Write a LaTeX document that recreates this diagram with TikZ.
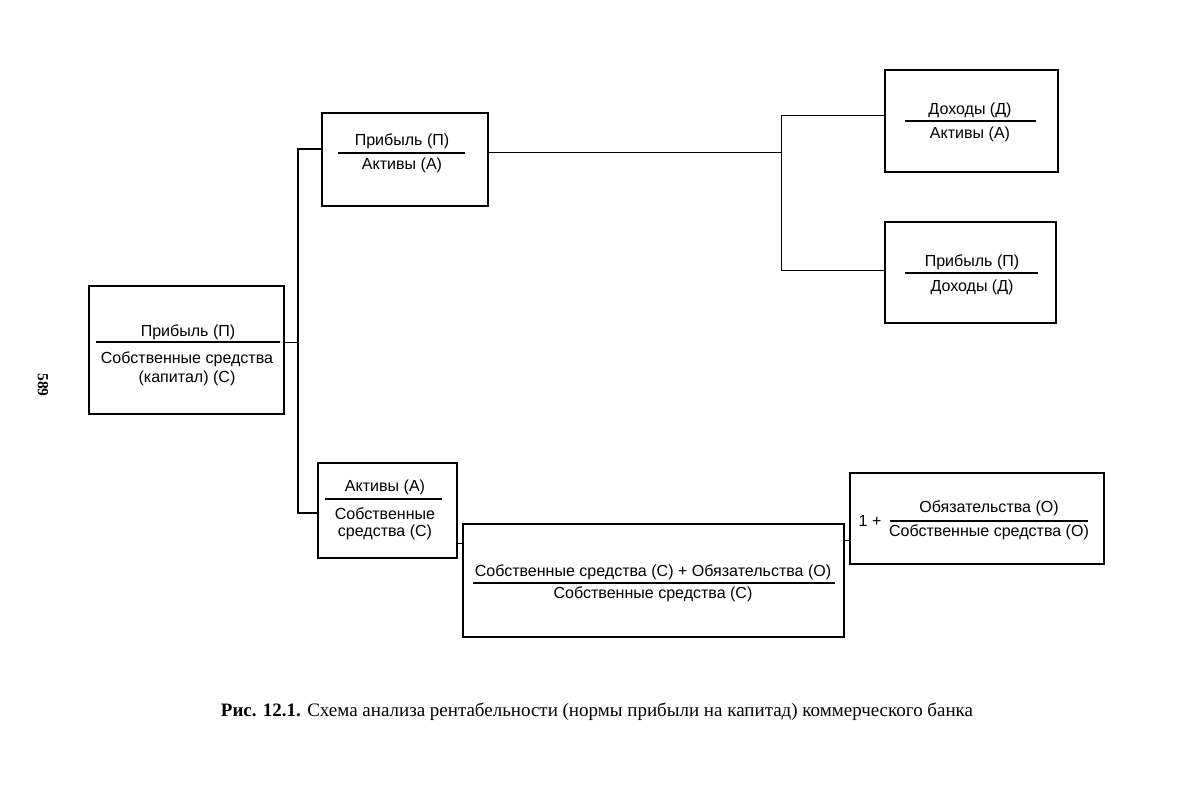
\documentclass[tikz,border=0pt]{standalone}
\usepackage{fontspec}
\setmainfont{Liberation Serif}
\newfontfamily\boxfont{Liberation Sans}
\usetikzlibrary{positioning}

\tikzset{
  box/.style={rectangle, draw=black, line width=1.1pt, inner sep=0pt, below right},
  txt/.style={font=\boxfont\fontsize{11.4}{14}\selectfont, inner sep=0pt},
  fracline/.style={line width=0.9pt},
  link/.style={line width=0.7pt},
  trunk/.style={line width=1.1pt}
}

\begin{document}
\begin{tikzpicture}[x=0.025cm, y=-0.025cm]
      \useasboundingbox (0,0) rectangle (1200,788);
      %\draw[help lines, step=50] (0,0) grid (1200,788);

      % boxes
      \node [box, minimum width=4.875cm, minimum height=3.2cm] (L) at (88,285) {};
      \node [box, minimum width=4.15cm, minimum height=2.325cm] (T) at (321,112) {};
      \node [box, minimum width=4.325cm, minimum height=2.55cm] (RT) at (884,69) {};
      \node [box, minimum width=4.275cm, minimum height=2.525cm] (RB) at (884,221) {};
      \node [box, minimum width=3.475cm, minimum height=2.375cm] (B1) at (317,462) {};
      \node [box, minimum width=9.525cm, minimum height=2.825cm] (B2) at (462,523) {};
      \node [box, minimum width=6.35cm, minimum height=2.275cm] (R) at (849,472) {};

      % left box
      \node [txt] (Lnum) at (188,332) {Прибыль (П)};
      \draw [fracline] (96,342) -- (280,342);
      \node [txt] (Lden1) at (187,359) {Собственные средства};
      \node [txt] (Lden2) at (187,378) {(капитал) (С)};

      % top box
      \node [txt] (Tnum) at (402,141) {Прибыль (П)};
      \draw [fracline] (338,153) -- (465,153);
      \node [txt] (Tden) at (402,165) {Активы (А)};

      % right top box
      \node [txt] (RTnum) at (970,110) {Доходы (Д)};
      \draw [fracline] (905,121) -- (1036,121);
      \node [txt] (RTden) at (970,134) {Активы (А)};

      % right bottom box
      \node [txt] (RBnum) at (972,262) {Прибыль (П)};
      \draw [fracline] (905,273) -- (1038,273);
      \node [txt] (RBden) at (972,287) {Доходы (Д)};

      % bottom box
      \node [txt] (B1num) at (385,487) {Активы (А)};
      \draw [fracline] (325,499) -- (442,499);
      \node [txt] (B1den1) at (385,514) {Собственные};
      \node [txt] (B1den2) at (385,532) {средства (С)};

      % wide box
      \node [txt] (B2num) at (653,572) {Собственные средства (С) + Обязательства (О)};
      \draw [fracline] (473,583) -- (835,583);
      \node [txt] (B2den) at (653,594) {Собственные средства (С)};

      % right box
      \node [txt] (Rone) at (870,521) {1 +};
      \node [txt] (Rnum) at (989,508) {Обязательства (О)};
      \draw [fracline] (890,521) -- (1088,521);
      \node [txt] (Rden) at (989,532) {Собственные средства (О)};

      % connectors
      \coordinate (jTop) at (298,149);
      \coordinate (jBot) at (298,513);
      \coordinate (jL) at (298,342);
      \coordinate (kTop) at (781,115);
      \coordinate (kBot) at (781,270);
      \coordinate (kT) at (781,152);

      \draw [trunk] (jTop -| T.west) -- (jTop) -- (jBot) -- (jBot -| B1.west);
      \draw [link] (L.east |- jL) -- (jL);
      \draw [link] (T.east |- kT) -- (kT);
      \draw [link] (kTop -| RT.west) -- (kTop) -- (kBot) -- (kBot -| RB.west);
      \draw [link] (B1.east |- 0,543) -- (B2.west |- 0,543);
      \draw [link] (B2.east |- 0,540) -- (R.west |- 0,540);

      % page number and caption
      \node [font=\bfseries\fontsize{11}{13}\selectfont, rotate=-90] (page) at (43,385) {589};
      \node [font=\fontsize{13.5}{16}\selectfont] (caption) at (597,712)
        {\textbf{Рис. 12.1.} Схема анализа рентабельности (нормы прибыли на капитад) коммерческого банка};

    \end{tikzpicture}
\end{document}
